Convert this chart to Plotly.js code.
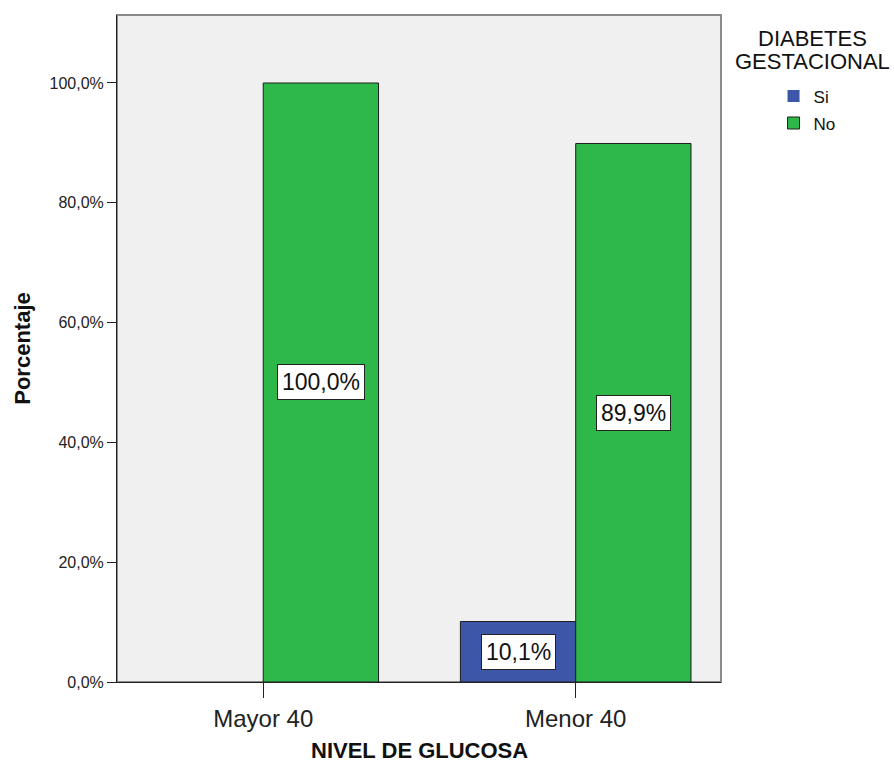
<!DOCTYPE html>
<html>
<head>
<meta charset="utf-8">
<script src="https://cdn.plot.ly/plotly-3.0.1.min.js"></script>
<style>html,body{margin:0;padding:0;background:#fff;}#chart{width:894px;height:765px;}</style>
</head>
<body>
<div id="chart"></div>
<script>
const categories = ["Mayor 40", "Menor 40"];
const seriesNames = ["Si", "No"];
const siValues = [0, 10.1];
const noValues = [100.0, 89.9];
const yTickValues = [0, 20, 40, 60, 80, 100];
const yTickLabels = ["0,0%", "20,0%", "40,0%", "60,0%", "80,0%", "100,0%"];
const legendTitleLines = ["DIABETES", "GESTACIONAL"];
const xTitle = "NIVEL DE GLUCOSA";
const yTitle = "Porcentaje";

const colors = {Si: "#3e56a8", No: "#2eb84a"};
const font = "Arial, 'Liberation Sans', sans-serif";

const series = [siValues, noValues];
const traces = series.map((vals, i) => ({
  type: "bar",
  name: seriesNames[i],
  legendgroup: seriesNames[i],
  x: categories,
  y: vals,
  marker: {
    color: colors[seriesNames[i]],
    line: {color: "#1e1e1e", width: vals.map(v => v > 0 ? 1 : 0)}
  },
  hoverinfo: "none"
}));

const groupGap = 0.262;
const barW = (1 - groupGap) / 2;
const annotations = [];
series.forEach((vals, si) => {
  vals.forEach((v, ci) => {
    if (v <= 0) return;
    annotations.push({
      xref: "x", yref: "y",
      x: ci + (si === 0 ? -barW / 2 : barW / 2),
      y: v / 2,
      text: v.toFixed(1).replace(".", ",") + "%",
      showarrow: false,
      bgcolor: "#ffffff",
      bordercolor: "#222222",
      borderwidth: 1,
      borderpad: 4,
      font: {family: font, size: 23, color: "#111"}
    });
  });
});
const titleY = [0.9648, 0.9303];
legendTitleLines.forEach((t, i) => {
  annotations.push({
    xref: "paper", yref: "paper",
    x: 1.1507, y: titleY[i], xanchor: "center", yanchor: "middle",
    text: t,
    showarrow: false,
    font: {family: font, size: 22, color: "#111"}
  });
});
annotations.push({
  xref: "paper", yref: "paper",
  x: 0.5, y: -0.1034, xanchor: "center", yanchor: "middle",
  text: "<b>" + xTitle + "</b>",
  showarrow: false,
  font: {family: font, size: 22, color: "#111"}
});

const layout = {
  width: 894, height: 765,
  margin: {l: 117, r: 173, t: 15, b: 83},
  paper_bgcolor: "#ffffff",
  plot_bgcolor: "#f0f0f0",
  barmode: "group",
  bargap: groupGap,
  bargroupgap: 0,
  separators: ",.",
  showlegend: true,
  legend: {
    x: 1.087, y: 0.905, xanchor: "left", yanchor: "top",
    font: {family: font, size: 17, color: "#111"},
    bgcolor: "rgba(0,0,0,0)",
    traceorder: "grouped",
    tracegroupgap: 2
  },
  xaxis: {
    type: "category",
    range: [-0.468, 1.465],
    showline: true, linecolor: "#222", linewidth: 1,
    ticks: "outside", ticklen: 15, tickcolor: "#222",
    tickfont: {family: font, size: 24, color: "#222"},
    showgrid: false, zeroline: false
  },
  yaxis: {
    range: [0, 111.35],
    tickvals: yTickValues, ticktext: yTickLabels,
    showline: true, linecolor: "#222", linewidth: 1,
    ticks: "outside", ticklen: 9, tickcolor: "#222",
    tickfont: {family: font, size: 16, color: "#222"},
    showgrid: false, zeroline: false,
    title: {text: "<b>" + yTitle + "</b>", font: {family: font, size: 22, color: "#111"}, standoff: 12}
  },
  shapes: [{
    type: "rect", xref: "paper", yref: "paper", x0: 0, x1: 1, y0: 0, y1: 1,
    line: {color: "#8a8a8a", width: 2}, layer: "below"
  }],
  annotations: annotations
};

Plotly.newPlot("chart", traces, layout, {staticPlot: true, displayModeBar: false});
</script>
</body>
</html>
